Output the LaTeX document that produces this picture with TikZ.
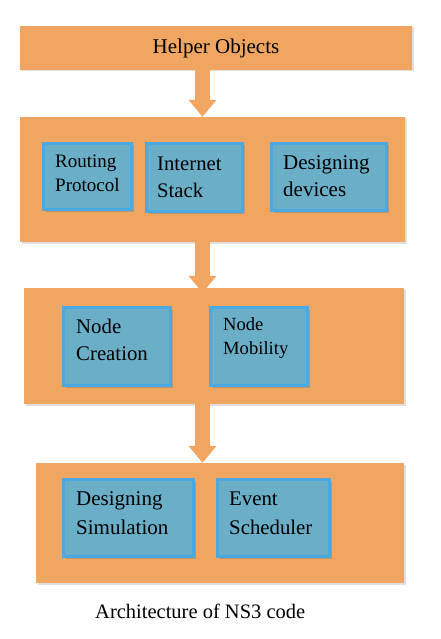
\documentclass[tikz,border=0pt]{standalone}
\usepackage{fontspec}
\setmainfont{Liberation Serif}
\usetikzlibrary{arrows.meta}
\usetikzlibrary{shadows}
\definecolor{panel}{RGB}{240,166,96}
\definecolor{modfill}{RGB}{107,174,199}
\definecolor{modedge}{RGB}{76,168,224}
\tikzstyle{tier}=[rectangle,fill=panel,draw=none,inner sep=0mm,drop shadow={shadow xshift=1.5pt,shadow yshift=-1.5pt,opacity=0.25}]
\tikzstyle{modbox}=[rectangle,fill=modfill,draw=modedge,line width=3pt,inner sep=0mm,drop shadow={shadow xshift=2pt,shadow yshift=-2pt,opacity=0.45}]
\tikzstyle{lbl}=[inner sep=0mm,align=left,anchor=base west]
\tikzstyle{flow}=[draw=panel,line width=15pt,-{Triangle[width=27pt,length=17pt]}]
\tikzset{every picture/.style={
    x=1pt,y=-1pt
  }
}

\begin{document}
\begin{tikzpicture}
      \path[use as bounding box, fill=white] (0,0) rectangle (440,639);
      \node[tier, minimum width=392, minimum height=44, font=\fontsize{21}{24}\selectfont] at (216,48) (helper) {Helper Objects};
      \node[tier, minimum width=385, minimum height=125] at (212.5,179.5) (setup) {};
      \node[tier, minimum width=380, minimum height=116] at (214,346) (nodes) {};
      \node[tier, minimum width=368, minimum height=120] at (220,523) (sim) {};
      \node[modbox, minimum width=88, minimum height=66] at (87.5,176.5) (routing) {};
      \node[modbox, minimum width=96, minimum height=68] at (194.5,177.5) (stack) {};
      \node[modbox, minimum width=115, minimum height=67] at (329,177) (devices) {};
      \node[modbox, minimum width=107, minimum height=78] at (117,346.5) (creation) {};
      \node[modbox, minimum width=97, minimum height=78] at (259,346.5) (mobility) {};
      \node[modbox, minimum width=130, minimum height=77] at (128.5,518) (design) {};
      \node[modbox, minimum width=112, minimum height=77] at (273.5,518) (sched) {};
      \node[lbl, font=\fontsize{19}{24}\selectfont] at (55,191) (routingtxt) {Routing\\Protocol};
      \node[lbl, font=\fontsize{20.7}{27}\selectfont] at (157,197) (stacktxt) {Internet\\Stack};
      \node[lbl, font=\fontsize{21}{26}\selectfont] at (283,196) (devicestxt) {Designing\\devices};
      \node[lbl, font=\fontsize{20.8}{27}\selectfont] at (76,360) (creationtxt) {Node\\Creation};
      \node[lbl, font=\fontsize{18.6}{24}\selectfont] at (223,354) (mobilitytxt) {Node\\Mobility};
      \node[lbl, font=\fontsize{21}{29}\selectfont] at (76,534) (designtxt) {Designing\\Simulation};
      \node[lbl, font=\fontsize{20.8}{29}\selectfont] at (229,534) (schedtxt) {Event\\Scheduler};
      \node[lbl, font=\fontsize{20.5}{24}\selectfont] at (95,618) (title) {Architecture of NS3 code};
      \coordinate (axis) at (202.5,0);
      \draw[flow] (helper.south -| axis) -- (setup.north -| axis);
      \draw[flow, shorten >=-5pt] (setup.south -| axis) -- (nodes.north -| axis);
      \draw[flow] (nodes.south -| axis) -- (sim.north -| axis);
    \end{tikzpicture}
\end{document}
